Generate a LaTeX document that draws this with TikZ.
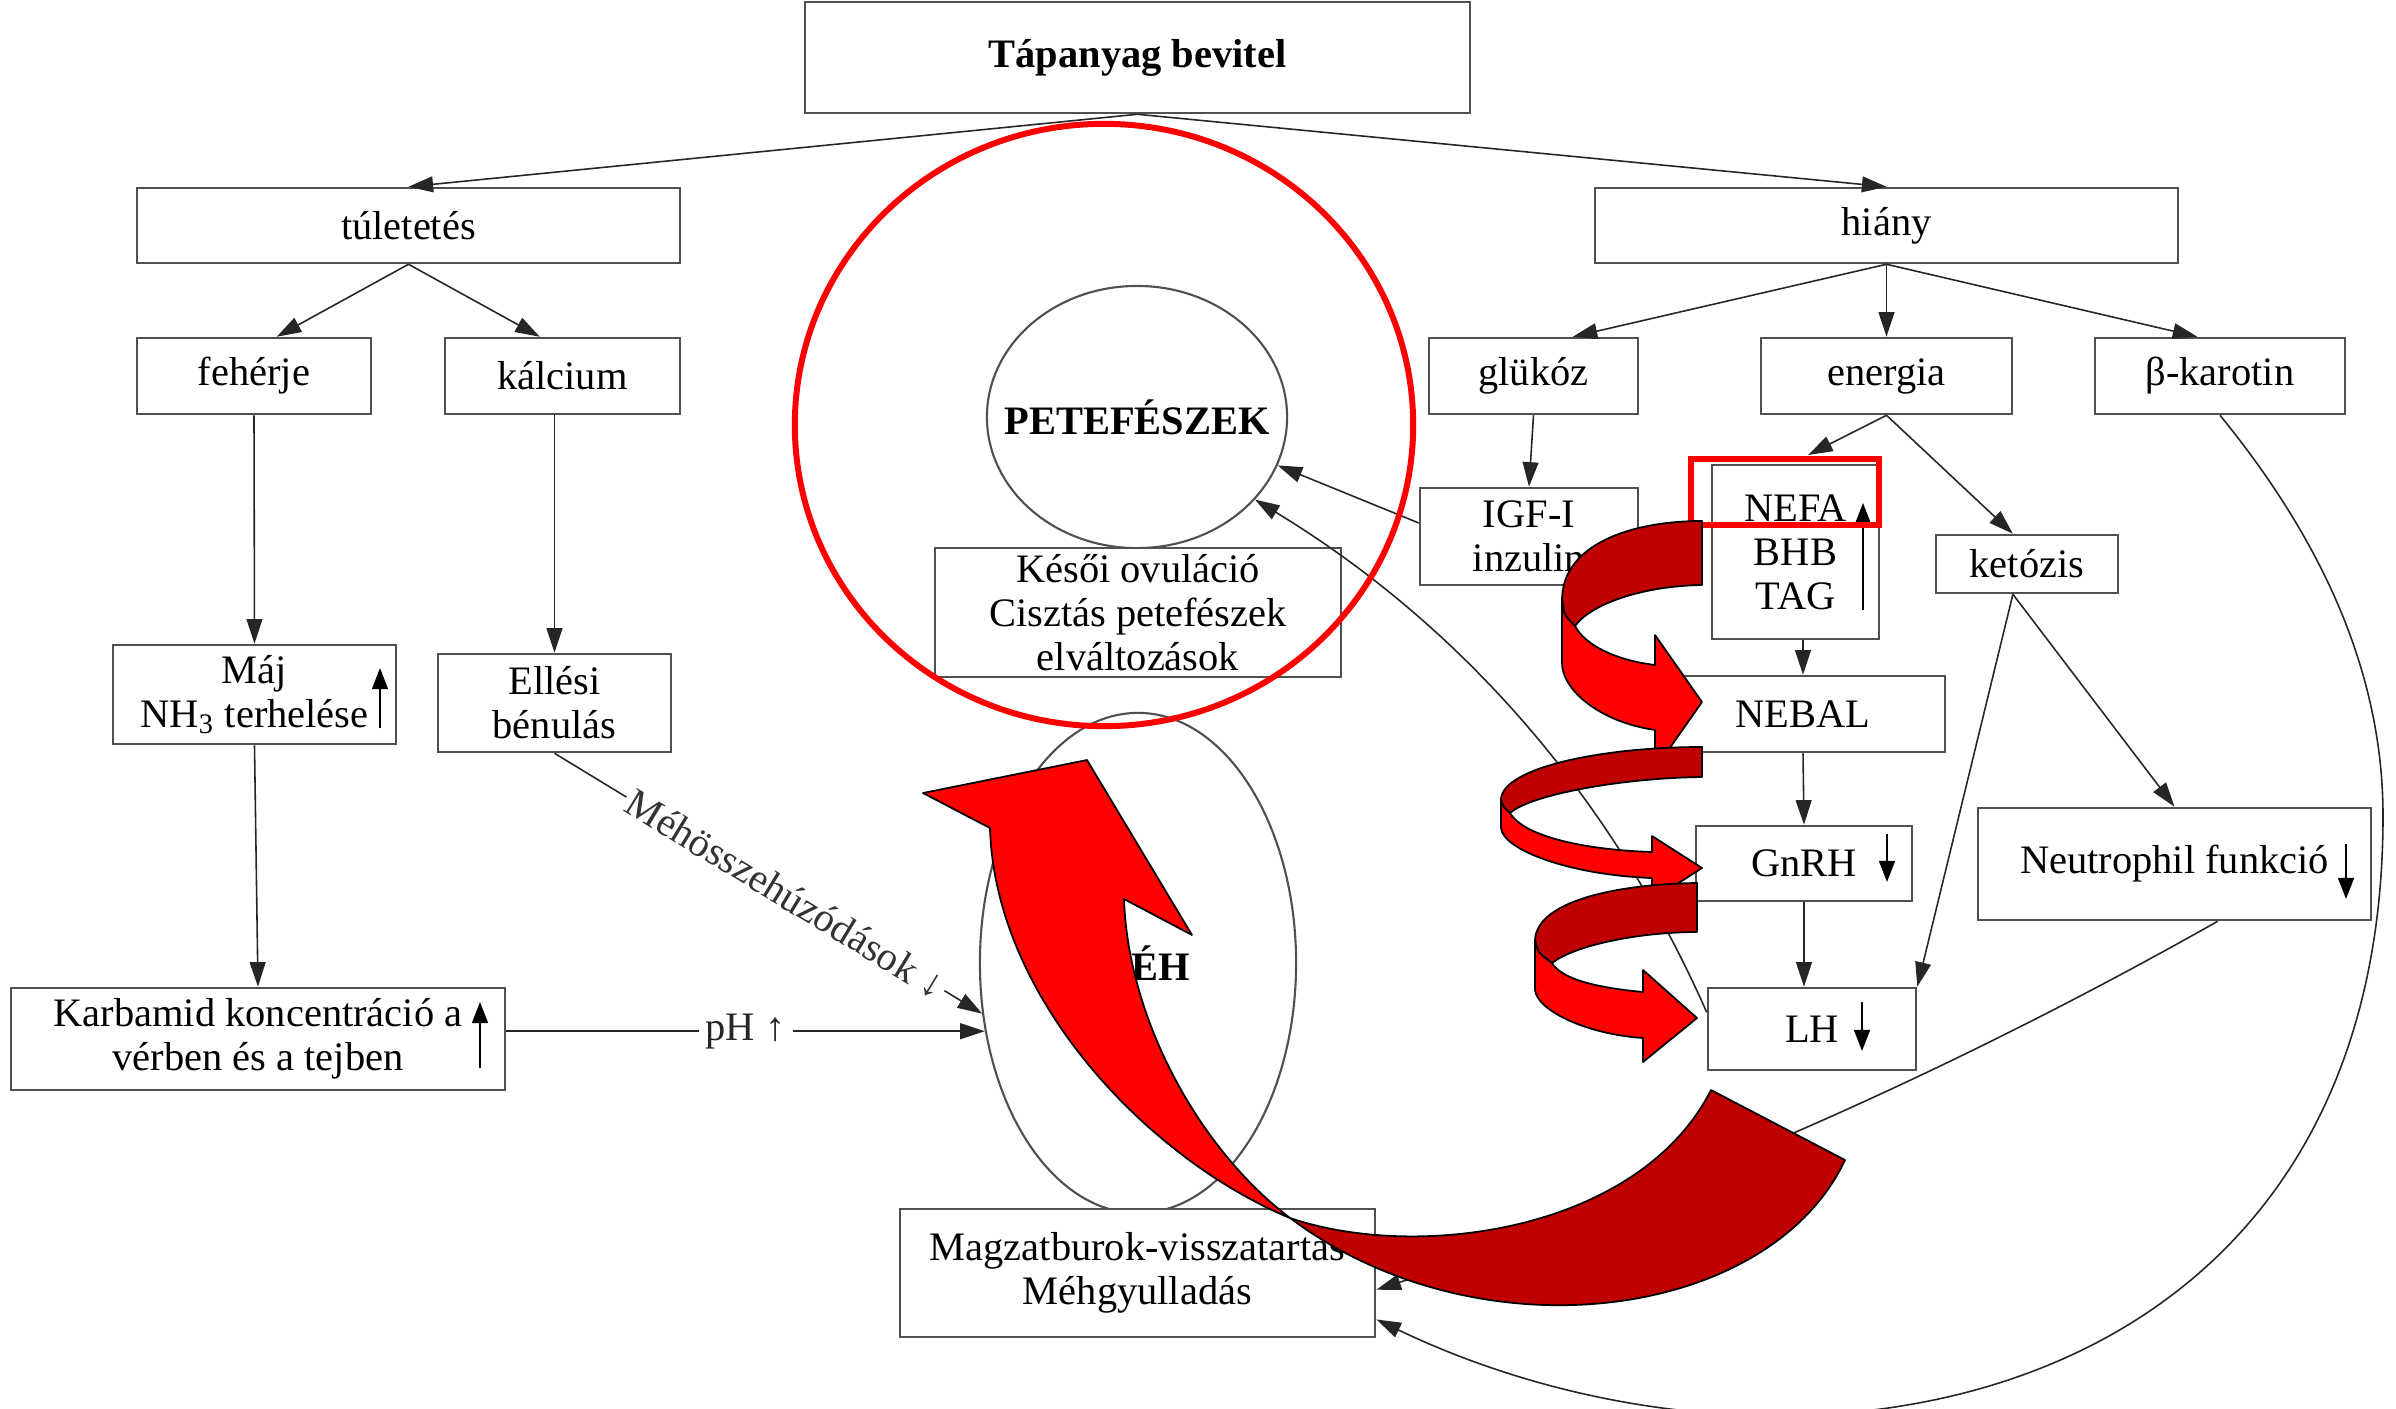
\documentclass[tikz,border=0pt]{standalone}
\usepackage{fontspec}
\setmainfont{Liberation Serif}
\usetikzlibrary{arrows.meta,calc,shapes.geometric}

\definecolor{vilagos}{RGB}{255,0,0}
\definecolor{sotet}{RGB}{192,0,0}
\definecolor{keret}{RGB}{80,80,80}
\newcommand{\betu}{\fontsize{11.5}{12.5}\selectfont}

\begin{document}
\begin{tikzpicture}[x=0.01cm,y=-0.01cm,
    doboz/.style={draw=keret, line width=0.7pt, fill=white, inner sep=0pt, align=center, font=\betu},
    nyil/.style={-{Triangle[length=7pt,width=4.5pt]}, line width=0.45pt, black!85},
    jel/.style={-{Triangle[length=6pt,width=4.5pt]}, line width=0.6pt},
    szalag/.style={draw=black, line width=0.5pt, line join=round}]
    \useasboundingbox[fill=white] (0,0) rectangle (2396,1408);

    % ellipses (uterus, ovary)
    \node[draw=keret, line width=0.6pt, ellipse, minimum width=3.16cm, minimum height=5cm, inner sep=0pt] (eh) at (1138,963) {};
    \node[font=\bfseries\betu] (ehfelirat) at (1161,963) {ÉH};
    \node[draw=keret, line width=0.6pt, ellipse, minimum width=3cm, minimum height=2.62cm, inner sep=0pt] (pete) at (1137,417) {};
    \node[font=\bfseries\betu] (petefelirat) at (1137,417) {PETEFÉSZEK};

    % boxes
    \node[doboz, font=\bfseries\betu, minimum width=6.65cm, minimum height=1.11cm] (tap) at (1137.5,57.5) {Tápanyag bevitel};
    \node[doboz, minimum width=5.43cm, minimum height=0.75cm] (tul) at (408.5,225.5) {túletetés};
    \node[doboz, minimum width=5.83cm, minimum height=0.75cm] (hia) at (1886.5,225.5) {hiány};
    \node[doboz, minimum width=2.34cm, minimum height=0.76cm] (feh) at (254,376) {fehérje};
    \node[doboz, minimum width=2.35cm, minimum height=0.76cm] (kal) at (562.5,376) {kálcium};
    \node[doboz, minimum width=2.09cm, minimum height=0.76cm] (glu) at (1533.5,376) {glükóz};
    \node[doboz, minimum width=2.51cm, minimum height=0.76cm] (ene) at (1886.5,376) {energia};
    \node[doboz, minimum width=2.50cm, minimum height=0.76cm] (bka) at (2220,376) {β-karotin};
    \node[doboz, minimum width=2.18cm, minimum height=0.97cm] (igf) at (1529,536.5) {IGF-I\\inzulin};
    \node[doboz, minimum width=1.67cm, minimum height=1.74cm] (nefa) at (1795.5,552) {NEFA\\BHB\\TAG};
    \node[doboz, minimum width=1.82cm, minimum height=0.58cm] (ket) at (2027,564) {ketózis};
    \node[doboz, minimum width=2.84cm, minimum height=0.76cm] (nebal) at (1803,714) {NEBAL};
    \node[doboz, minimum width=2.16cm, minimum height=0.75cm] (gnrh) at (1804,863.5) {GnRH};
    \node[doboz, minimum width=2.08cm, minimum height=0.82cm] (lh) at (1812,1029) {LH};
    \node[doboz, minimum width=3.93cm, minimum height=1.12cm] (neu) at (2174.5,864) {Neutrophil funkció};
    \node[doboz, minimum width=2.83cm, minimum height=0.99cm] (maj) at (254.5,694.5) {Máj\\NH\textsubscript{3} terhelése};
    \node[doboz, minimum width=2.33cm, minimum height=0.98cm] (ell) at (554.5,703) {Ellési\\bénulás};
    \node[doboz, minimum width=4.94cm, minimum height=1.02cm] (karb) at (258,1039) {Karbamid koncentráció a\\vérben és a tejben};
    \node[doboz, minimum width=4.06cm, minimum height=1.29cm] (kes) at (1138,612.5) {Késői ovuláció\\Cisztás petefészek\\elváltozások};
    \node[doboz, minimum width=4.75cm, minimum height=1.28cm] (magz) at (1137.5,1273) {Magzatburok-visszatartás\\Méhgyulladás};

    % up / down signs in the boxes
    \draw[jel] (380,728) -- (380,668);
    \draw[jel] (480,1068) -- (480,1002);
    \draw[jel] (1863,610) -- (1863,503);
    \draw[jel] (1887,834) -- (1887,882);
    \draw[jel] (1862,1002) -- (1862,1051);
    \draw[jel] (2346,844) -- (2346,899);

    % connectors
    \coordinate (nefacsucs) at (1808,455);
    \draw[nyil] (tap.south) -- (tul.north);
    \draw[nyil] (tap.south) -- (hia.north);
    \draw[nyil] (tul.south) -- (feh.60);
    \draw[nyil] (tul.south) -- (kal.120);
    \draw[nyil] (feh.south) -- (maj.north);
    \draw[nyil] (maj.south) -- (karb.north);
    \draw[nyil] (ell.north |- kal.south) -- (ell.north);
    \draw[nyil] (hia.south) -- (glu.45);
    \draw[nyil] (hia.south) -- (ene.north);
    \draw[nyil] (hia.south) -- (bka.120);
    \draw[nyil] (glu.south) -- (igf.north);
    \draw[nyil] (ene.south) -- (nefacsucs);
    \draw[nyil] (ene.south) -- (ket.115);
    \draw[nyil] (igf.173) -- (pete.-19);
    \draw[nyil] (lh.171) .. controls (1610,793) and (1458,623) .. (pete.-35);
    \draw[nyil] (ket.245) -- (lh.north east);
    \draw[nyil] (ket.245) -- (neu.north);
    \draw[nyil] (nebal.north |- nefa.south) -- (nebal.north);
    \draw[nyil] (nebal.south) -- (gnrh.north);
    \draw[nyil] (gnrh.south) -- (gnrh.south |- lh.north);
    \draw[nyil] (ell.south) -- node[sloped, pos=0.54, fill=white, inner sep=1pt, font=\betu, text=black!80] (mehfelirat) {Méhösszehúzódások \textbf{↓}} (eh.198);
    \draw[nyil] (karb.east |- eh.204) -- node[pos=0.5, fill=white, inner sep=2pt, font=\betu] (phfelirat) {pH \textbf{↑}} (eh.204);
    \draw[nyil] (bka.south) .. controls (2316,533) and (2383,666) .. (2383,816)
        .. controls (2383,1416) and (1794,1519) .. (magz.-11);
    \draw[nyil] (neu.-53) .. controls (1953,1071) and (1674,1194) .. (magz.-4);

    % red highlights
    \draw[red, line width=1.7pt] (1104,425) ellipse [x radius=3.09cm, y radius=3.01cm];
    \draw[red, line width=1.5pt] (1691,459) rectangle (1879,525);

    % big curved arrow
    \filldraw[szalag, fill=vilagos] (990,828) -- (923,793) -- (1087,760) -- (1192,935) -- (1124,899)
        .. controls (1128,1020) and (1200,1150) .. (1290,1218)
        .. controls (1150,1160) and (995,1000) .. (990,828) -- cycle;
    \filldraw[szalag, fill=sotet] (1290,1218) .. controls (1420,1262) and (1640,1230) .. (1711,1090)
        -- (1845,1160) .. controls (1770,1320) and (1480,1360) .. (1290,1218) -- cycle;

    % spiral arrows
    \filldraw[szalag, fill=sotet] (1702,521) .. controls (1630,521) and (1562,545) .. (1562,600)
        .. controls (1564,615) .. (1575,626) .. controls (1590,605) and (1640,586) .. (1702,585) -- cycle;
    \filldraw[szalag, fill=vilagos] (1562,600) -- (1562,663) .. controls (1562,690) and (1600,722) .. (1655,730)
        -- (1655,769) -- (1702,702) -- (1655,635) -- (1655,665)
        .. controls (1615,660) and (1585,645) .. (1575,626) .. controls (1564,615) .. (1562,600) -- cycle;

    \filldraw[szalag, fill=sotet] (1702,747) .. controls (1600,747) and (1503,768) .. (1501,799)
        .. controls (1503,807) .. (1510,813) .. controls (1530,795) and (1620,778) .. (1702,777) -- cycle;
    \filldraw[szalag, fill=vilagos] (1501,799) -- (1501,828) .. controls (1503,850) and (1570,875) .. (1652,878)
        -- (1652,900) -- (1702,868) -- (1652,836) -- (1652,852)
        .. controls (1590,850) and (1525,838) .. (1510,813) .. controls (1503,807) .. (1501,799) -- cycle;

    \filldraw[szalag, fill=sotet] (1697,883) .. controls (1620,884) and (1537,900) .. (1535,940)
        .. controls (1538,953) .. (1552,963) .. controls (1575,945) and (1640,932) .. (1697,932) -- cycle;
    \filldraw[szalag, fill=vilagos] (1535,940) -- (1535,990) .. controls (1537,1010) and (1585,1034) .. (1643,1038)
        -- (1643,1062) -- (1697,1018) -- (1643,970) -- (1643,992)
        .. controls (1600,988) and (1562,980) .. (1552,963) .. controls (1538,953) .. (1535,940) -- cycle;

\end{tikzpicture}
\end{document}
